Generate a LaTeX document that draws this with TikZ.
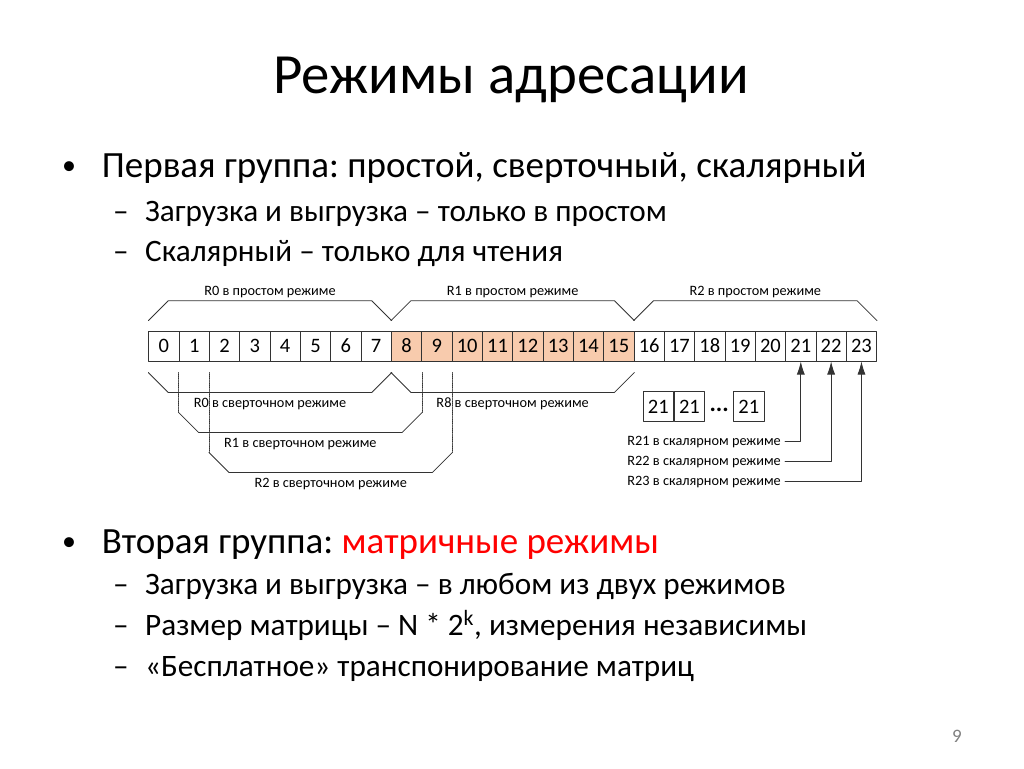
\documentclass[tikz,border=0pt]{standalone}
\usepackage{fontspec}
\setmainfont{Carlito}
\frenchspacing
\usetikzlibrary{calc,arrows.meta}
\definecolor{cellorange}{HTML}{F8CBAD}
\definecolor{lineg}{HTML}{333333}
\definecolor{slidered}{HTML}{FF0000}
\begin{document}
\begin{tikzpicture}[x=1pt, y=-1pt, line join=round, line cap=round, >={Latex[length=13pt,width=8pt]}]
	\useasboundingbox (0,0) rectangle (1024,768);
	\tikzset{
		cell/.style={draw=lineg, line width=0.8pt, minimum width=30.33pt, minimum height=30pt, inner sep=0pt, text height=13.4pt, text depth=0pt, anchor=north west, font=\fontsize{20.5}{20.5}\selectfont},
		lbl/.style={font=\fontsize{14.3}{14.3}\selectfont, inner sep=0pt, anchor=base},
		brace/.style={draw=lineg, line width=0.8pt},
		guide/.style={draw=lineg, line width=0.8pt, densely dotted},
		bul/.style={anchor=base west, inner sep=0pt, font=\fontsize{37}{37}\selectfont},
		dot/.style={anchor=base, inner sep=0pt, font=\fontsize{28}{28}\selectfont},
		subbul/.style={anchor=base west, inner sep=0pt, font=\fontsize{31.2}{31.2}\selectfont},
	}
	% title and text
	\node[anchor=base, inner sep=0pt, font=\fontsize{56.8}{56.8}\selectfont] (title) at (511,93) {Режимы адресации};
	\node[dot] (d1) at (69,174) {•};
	\node[bul] (b1) at (101.7,177.3) {Первая группа: простой, сверточный, скалярный};
	\node[subbul] (e1) at (113,221.7) {–};
	\node[subbul] (s11) at (145,221.7) {Загрузка и выгрузка – только в простом};
	\node[subbul] (e2) at (113,261.7) {–};
	\node[subbul] (s12) at (145,261.7) {Скалярный – только для чтения};
	\node[dot] (d2) at (69,550) {•};
	\node[bul] (b2) at (101.7,553) {Вторая группа: \textcolor{slidered}{матричные режимы}};
	\node[subbul] (e3) at (113,594) {–};
	\node[subbul] (s21) at (145,594) {Загрузка и выгрузка – в любом из двух режимов};
	\node[subbul] (e4) at (113,635) {–};
	\node[subbul] (s22) at (145,635) {Размер матрицы – N * 2\textsuperscript{k}, измерения независимы};
	\node[subbul] (e5) at (113,676) {–};
	\node[subbul] (s23) at (145,676) {«Бесплатное» транспонирование матриц};
	\node[anchor=base, inner sep=0pt, text=gray, font=\fontsize{19}{19}\selectfont] (page) at (957,742) {9};
	% register cells
	\foreach \i in {0,...,23}{
		\ifnum\i>7 \ifnum\i<16 \def\fc{cellorange}\else\def\fc{white}\fi\else\def\fc{white}\fi
		\pgfmathsetmacro\cx{148.3+30.33*\i}
		\node[cell, fill=\fc] (c\i) at (\cx,330.7) {\i};
	}
	% simple mode
	\foreach \a/\b/\t in {0/7/R0, 8/15/R1, 16/23/R2}{
		\draw[brace] ($(c\a.north west)+(0,-10)$) -- ++(20,-20) -- ($(c\b.north east)+(-20,-30)$) -- ($(c\b.north east)+(0,-10)$);
		\node[lbl] at ($(c\a.north west)!0.5!(c\b.north east)+(0,-35.7)$) {\t\ в простом режиме};
	}
	% convolution mode
	\foreach \a/\b in {1/8, 2/9}{
		\pgfmathsetmacro\d{40*(\a)}
		\draw[guide] ($(c\a.south west)+(0,11)$) -- ++(0,\d);
		\draw[guide] ($(c\b.south east)+(0,11)$) -- ++(0,\d);
	}
	\foreach \a/\b/\d/\t in {0/7/0/R0, 8/15/0/R8, 1/8/40/R1, 2/9/80/R2}{
		\draw[brace] ($(c\a.south west)+(0,11+\d)$) -- ++(20,20) -- ($(c\b.south east)+(-20,31+\d)$) -- ($(c\b.south east)+(0,11+\d)$);
		\node[lbl] at ($(c\a.south west)!0.5!(c\b.south east)+(0,46+\d)$) {\t\ в сверточном режиме};
	}
	% scalar mode
	\node[cell] (q1) at (642.7,391) {21};
	\node[cell] (q2) at (q1.north east) {21};
	\node[cell] (q3) at (733.3,391) {21};
	\node[anchor=base, inner sep=0pt, font=\fontsize{24}{24}\selectfont\bfseries] (dots) at ($(q2.east)!0.5!(q3.west)+(0,5)$) {...};
	\foreach \i/\y in {21/445.5, 22/465.5, 23/485}{
		\node[lbl, anchor=base east] (r\i) at (781,\y) {R\i\ в скалярном режиме};
		\draw[brace, ->] ($(r\i.base east)+(4,-4)$) -| (c\i.south);
	}
\end{tikzpicture}
\end{document}
